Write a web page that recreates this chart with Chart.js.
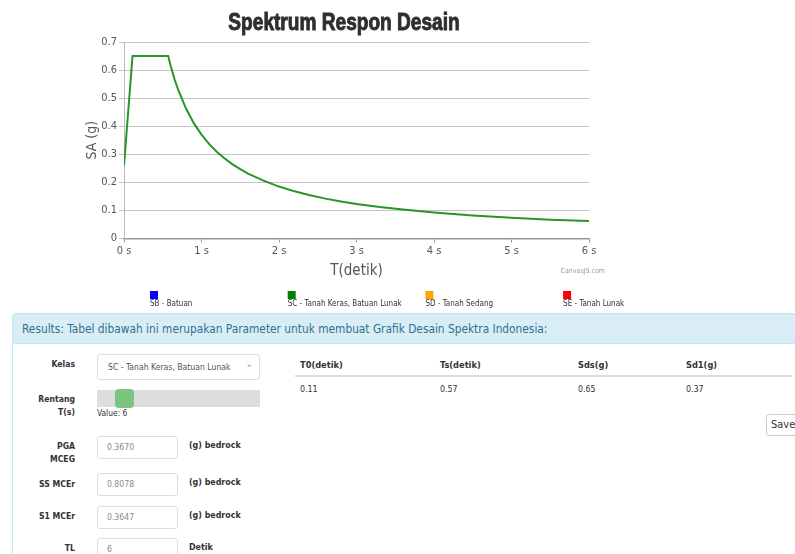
<!DOCTYPE html>
<html>
<head>
<meta charset="utf-8">
<script src="https://cdn.jsdelivr.net/npm/chart.js@4"></script>
<style>
    body { margin: 0; background: #fff; font-family: "DejaVu Sans Condensed", "DejaVu Sans", sans-serif; color: #333; overflow: hidden; }
    #chartBox { position: absolute; left: 0; top: 0; width: 688px; height: 312px; }
    .abs { position: absolute; white-space: nowrap; }
    .panel { position: absolute; left: 12px; top: 313px; width: 800px; height: 260px; border: 1px solid #bce8f1; border-radius: 4px; }
    .panel-heading { height: 29px; background: #d9edf7; color: #31708f; font-size: 11.8px; line-height: 30px; padding-left: 9px; border-bottom: 1px solid #bce8f1; }
    .lbl { font-weight: bold; font-size: 8.6px; text-align: right; width: 80px; left: -5px; line-height: 13px; }
    .box { position: absolute; border: 1px solid #ddd; border-radius: 3px; background: #fff; box-sizing: border-box; }
    .field { left: 97px; width: 81px; height: 23px; font-size: 8.6px; color: #888; padding-left: 9px; line-height: 21px; }
    .unit { left: 189px; font-weight: bold; font-size: 8.8px; }
    .th { font-weight: bold; font-size: 9.2px; top: 359px; }
    .td { font-size: 8.8px; top: 384px; }
</style>
</head>
<body>
<div id="chartBox"><canvas id="spectrumChart"></canvas></div>

<div class="panel"><div class="panel-heading">Results: Tabel dibawah ini merupakan Parameter untuk membuat Grafik Desain Spektra Indonesia:</div></div>

<div class="abs lbl" style="top:358px;">Kelas</div>
<div class="box" style="left:97px; top:354px; width:163px; height:26px; font-size:8.6px; color:#555; line-height:24px; padding-left:10px;">SC - Tanah Keras, Batuan Lunak<span style="position:absolute; right:6px; top:-3px; color:#999; font-size:10px;">&#8964;</span></div>

<div class="abs lbl" style="top:393px;">Rentang<br>T(s)</div>
<div class="abs" style="left:97px; top:390px; width:163px; height:17px; background:#ddd;"></div>
<div class="abs" style="left:115px; top:389px; width:19px; height:19px; background:#7cc47f; border-radius:4px;"></div>
<div class="abs" style="left:97px; top:408px; font-size:8.4px;">Value: 6</div>

<div class="abs lbl" style="top:440px;">PGA<br>MCEG</div>
<div class="box field" style="top:436px;">0.3670</div>
<div class="abs unit" style="top:440px;">(g) bedrock</div>

<div class="abs lbl" style="top:478px;">SS MCEr</div>
<div class="box field" style="top:473px;">0.8078</div>
<div class="abs unit" style="top:477px;">(g) bedrock</div>

<div class="abs lbl" style="top:510px;">S1 MCEr</div>
<div class="box field" style="top:506px;">0.3647</div>
<div class="abs unit" style="top:510px;">(g) bedrock</div>

<div class="abs lbl" style="top:542px;">TL</div>
<div class="box field" style="top:538px;">6</div>
<div class="abs unit" style="top:542px;">Detik</div>

<div class="abs th" style="left:300px;">T0(detik)</div>
<div class="abs th" style="left:440px;">Ts(detik)</div>
<div class="abs th" style="left:578px;">Sds(g)</div>
<div class="abs th" style="left:686px;">Sd1(g)</div>
<div class="abs" style="left:295px; top:375px; width:497px; height:2px; background:#ddd;"></div>
<div class="abs td" style="left:300px;">0.11</div>
<div class="abs td" style="left:440px;">0.57</div>
<div class="abs td" style="left:578px;">0.65</div>
<div class="abs td" style="left:686px;">0.37</div>

<div class="box" style="left:766px; top:414px; width:44px; height:22px; border-color:#ccc; font-size:11px; line-height:20px; padding-left:4px; color:#333;">Save</div>

<script>
// Period T (s) and spectral acceleration SA (g)
const periods = [0, 0.11, 0.57, 0.6, 0.65, 0.7, 0.8, 0.9, 1.0, 1.1, 1.2, 1.3, 1.4, 1.5, 1.6, 1.8, 2.0, 2.2, 2.4, 2.6, 2.8, 3.0, 3.3, 3.6, 4.0, 4.5, 5.0, 5.5, 6.0];
const saValues = [0.26, 0.65, 0.65, 0.617, 0.569, 0.529, 0.463, 0.411, 0.37, 0.336, 0.308, 0.285, 0.264, 0.247, 0.231, 0.206, 0.185, 0.168, 0.154, 0.142, 0.132, 0.123, 0.112, 0.103, 0.093, 0.082, 0.074, 0.067, 0.062];

// Site classes shown in the legend
const siteClasses = ['SB - Batuan', 'SC - Tanah Keras, Batuan Lunak', 'SD - Tanah Sedang', 'SE - Tanah Lunak'];
const classColors = ['#0000ff', '#008000', '#ffa500', '#ff0000'];
const activeClass = 1;

const chartTitle = 'Spektrum Respon Desain';
const fontFamily = '"DejaVu Sans Condensed", "DejaVu Sans", sans-serif';

// Narrow heavy title (drawn squeezed, like the original Impact-style heading)
const squeezedTitle = {
    id: 'squeezedTitle',
    afterDraw(chart) {
        const ctx = chart.ctx;
        ctx.save();
        ctx.translate(chart.width / 2, 24);
        ctx.scale(0.83, 1);
        ctx.font = 'bold 23px "Liberation Sans", Arial, sans-serif';
        ctx.textAlign = 'center';
        ctx.textBaseline = 'middle';
        ctx.fillStyle = '#2e2e2e';
        ctx.strokeStyle = '#2e2e2e';
        ctx.lineWidth = 0.9;
        ctx.strokeText(chartTitle, 0, 0);
        ctx.fillText(chartTitle, 0, 0);
        ctx.restore();
    }
};

// Legend under the chart: colour square above each label
const legendBelow = {
    id: 'legendBelow',
    afterDraw(chart) {
        const ctx = chart.ctx;
        const area = chart.chartArea;
        ctx.save();
        chart.data.datasets.forEach((ds, i) => {
            const x = area.left + 26 + i * 137.7;
            ctx.fillStyle = classColors[i];
            ctx.fillRect(x, 291, 8, 8);
            ctx.fillStyle = '#333';
            ctx.font = '8px ' + fontFamily;
            ctx.textBaseline = 'middle';
            ctx.fillText(ds.label, x, 304);
        });
        ctx.fillStyle = '#999';
        ctx.font = '7px ' + fontFamily;
        ctx.textAlign = 'right';
        ctx.fillText('CanvasJS.com', area.right + 16, 271);
        ctx.restore();
    }
};

const ctx = document.getElementById('spectrumChart').getContext('2d');
const spectrumChart = new Chart(ctx, {
    type: 'line',
    data: {
        datasets: siteClasses.map((name, i) => ({
            label: name,
            data: i === activeClass ? periods.map((t, k) => ({ x: t, y: saValues[k] })) : [],
            borderColor: i === activeClass ? '#269626' : classColors[i],
            borderWidth: 2,
            pointRadius: 0,
            tension: 0,
            fill: false
        }))
    },
    options: {
        responsive: true,
        maintainAspectRatio: false,
        animation: false,
        layout: { padding: { left: 80, right: 99, top: 42, bottom: 33.5 } },
        plugins: {
            legend: { display: false },
            tooltip: { enabled: false },
            title: { display: false }
        },
        scales: {
            x: {
                type: 'linear',
                min: 0,
                max: 6,
                ticks: {
                    stepSize: 1,
                    color: '#555',
                    font: { family: fontFamily, size: 11, lineHeight: 1 },
                    padding: 3,
                    maxRotation: 0,
                    callback: function(value) { return value + ' s'; }
                },
                grid: { drawOnChartArea: false, tickLength: 4, color: '#999' },
                border: { color: '#999', width: 1.5 },
                title: {
                    display: true,
                    text: 'T(detik)',
                    color: '#555',
                    font: { family: fontFamily, size: 15, lineHeight: 1 },
                    padding: { top: 4, bottom: 0 }
                }
            },
            y: {
                min: 0,
                max: 0.7,
                afterFit: function(scale) { scale.width = 44; },
                ticks: {
                    stepSize: 0.1,
                    color: '#555',
                    font: { family: fontFamily, size: 11 },
                    padding: 2,
                    callback: function(value) { return Math.round(value * 10) / 10; }
                },
                grid: { color: '#c4c4c4', tickLength: 5 },
                border: { color: '#bbb' },
                title: {
                    display: true,
                    text: 'SA (g)',
                    color: '#555',
                    font: { family: fontFamily, size: 14 },
                    padding: 4
                }
            }
        }
    },
    plugins: [squeezedTitle, legendBelow]
});
</script>
</body>
</html>
